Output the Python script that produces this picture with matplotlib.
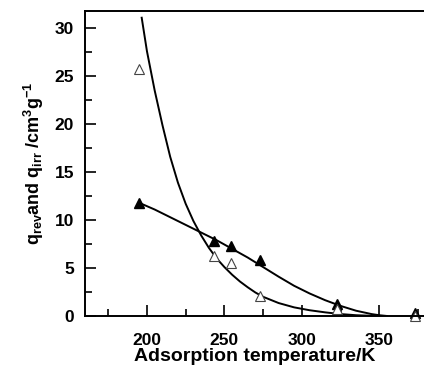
import matplotlib
matplotlib.use("Agg")
import matplotlib.pyplot as plt
from matplotlib.ticker import MultipleLocator

plt.rcParams['font.family'] = 'Liberation Sans'
plt.rcParams['font.weight'] = 'bold'
plt.rcParams['mathtext.fontset'] = 'custom'
plt.rcParams['mathtext.rm'] = 'Liberation Sans:bold'
plt.rcParams['mathtext.it'] = 'Liberation Sans:bold'

# measured points
temp = [195, 243, 254, 273, 323, 373]
q_irr = [11.8, 7.8, 7.3, 5.8, 1.25, 0.28]
q_rev = [25.8, 6.3, 5.55, 2.1, 0.7, 0.05]

# fitted curves
rev_fit_t = [196.6, 200, 205, 210, 215, 220, 225, 230, 235, 240, 245, 250, 255, 260,
             265, 270, 275, 285, 295, 305, 315, 325, 335, 345, 350]
rev_fit_q = [31.1, 27.6, 23.5, 19.9, 16.6, 13.9, 11.7, 9.9, 8.4, 7.1, 6.0, 5.1, 4.3, 3.6,
             3.0, 2.45, 2.0, 1.35, 0.9, 0.6, 0.38, 0.2, 0.08, 0.02, 0.0]
irr_fit_t = [195, 205, 215, 225, 235, 245, 255, 265, 275, 285, 295, 305, 315, 325,
             335, 345, 350, 355]
irr_fit_q = [11.8, 11.1, 10.3, 9.5, 8.7, 7.9, 7.0, 6.1, 5.1, 4.1, 3.15, 2.35, 1.65, 1.05,
             0.55, 0.2, 0.08, 0.0]

fig = plt.figure(figsize=(4.24, 3.67), dpi=100)
ax = fig.add_axes([0.2005, 0.139, 0.7985, 0.831])

ax.plot(rev_fit_t, rev_fit_q, 'k-', lw=1.4)
ax.plot(irr_fit_t, irr_fit_q, 'k-', lw=1.4)
ax.plot(temp, q_irr, 'k^', ms=7, clip_on=False)
ax.plot(temp, q_rev, '^', ms=7, mfc='white', mec='#444444', mew=0.8, clip_on=False)

ax.set_xlim(160, 378.6)
ax.set_ylim(0, 31.8)
ax.xaxis.set_major_locator(MultipleLocator(50))
ax.xaxis.set_minor_locator(MultipleLocator(25))
ax.yaxis.set_major_locator(MultipleLocator(5))
ax.yaxis.set_minor_locator(MultipleLocator(2.5))
ax.tick_params(which='both', direction='in', width=1.2, labelsize=12.5)
ax.tick_params(which='major', length=8)
ax.tick_params(axis='x', which='major', pad=12)
ax.tick_params(axis='y', which='major', pad=8)
ax.tick_params(which='minor', length=5)
ax.tick_params(top=False, right=False)
ax.spines['right'].set_visible(False)
for s in ['left', 'bottom', 'top']:
    ax.spines[s].set_linewidth(1.4)

ax.set_xlabel('Adsorption temperature/K', fontsize=14, fontweight='bold', labelpad=0)
ax.set_ylabel(r'q$_{\rm rev}$and q$_{\rm irr}$ /cm$^{3}$g$^{-1}$', fontsize=13, fontweight='bold', labelpad=6)

fig.savefig('out.png', dpi=100)
